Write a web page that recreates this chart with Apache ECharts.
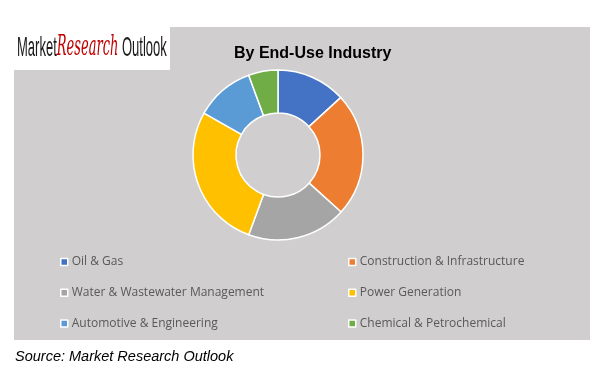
<!DOCTYPE html>
<html><head><meta charset="utf-8">
<script src="https://cdn.jsdelivr.net/npm/echarts@6/dist/echarts.min.js"></script>
<style>html,body{margin:0;padding:0;background:#fff}#c{width:599px;height:380px}</style>
</head><body><div id="c"></div>
<script>
const categories = ["Oil & Gas","Construction & Infrastructure","Water & Wastewater Management","Power Generation","Automotive & Engineering","Chemical & Petrochemical"];
const shares = [13.2, 23.5, 18.9, 27.6, 11.2, 5.6];
const colors = ["#4472C4","#ED7D31","#A5A5A5","#FFC000","#5B9BD5","#70AD47"];
const titleText = "By End-Use Industry";
const sourceText = "Source: Market Research Outlook";

const chart = echarts.init(document.getElementById('c'), null, {renderer:'canvas'});
const legendText = {color:'#595959', fontSize:12, fontFamily:'Open Sans, Liberation Sans, sans-serif', padding:[0,0,0,-1]};
const legendCommon = {orient:'vertical', itemWidth:7, itemHeight:7, itemGap:18.7, icon:'rect',
  itemStyle:{borderColor:'#fff', borderWidth:1.5}, textStyle:legendText, selectedMode:false, padding:0};
chart.setOption({
  backgroundColor:'#fff',
  animation:false,
  color: colors,
  graphic:[
    {type:'rect', shape:{x:14,y:27,width:576,height:313}, style:{fill:'#D0CECE'}, z:-10},
    {type:'rect', shape:{x:14,y:27,width:156,height:43}, style:{fill:'#fff'}, z:-5},
    {type:'text', x:17, y:34, scaleX:0.465, style:{text:'{a|Market}{b|Research}{a| Outlook}', rich:{
      a:{fontSize:28, fontFamily:'Liberation Sans', fill:'#1a1a1a'},
      b:{fontSize:28, fontFamily:'DejaVu Serif', fontStyle:'italic', fill:'#C00000'}}}},
    {type:'text', left:15, top:349, style:{text:sourceText, font:'italic 14.5px Liberation Sans, Arial, sans-serif', fill:'#000'}}
  ],
  title:{text:titleText, left:229, top:41,
    textStyle:{fontSize:16, fontWeight:'bold', color:'#000', fontFamily:'Liberation Sans, Arial, sans-serif'}},
  legend:[
    Object.assign({left:60, top:256, data:[categories[0],categories[2],categories[4]]}, legendCommon),
    Object.assign({left:348, top:256, data:[categories[1],categories[3],categories[5]]}, legendCommon)
  ],
  series:[{
    type:'pie', center:[278,155], radius:[42,85], startAngle:90, clockwise:true,
    label:{show:false}, labelLine:{show:false}, emphasis:{disabled:true},
    itemStyle:{borderColor:'#fff', borderWidth:1.5},
    data: categories.map((n,i)=>({name:n, value:shares[i]}))
  }]
});
</script></body></html>
